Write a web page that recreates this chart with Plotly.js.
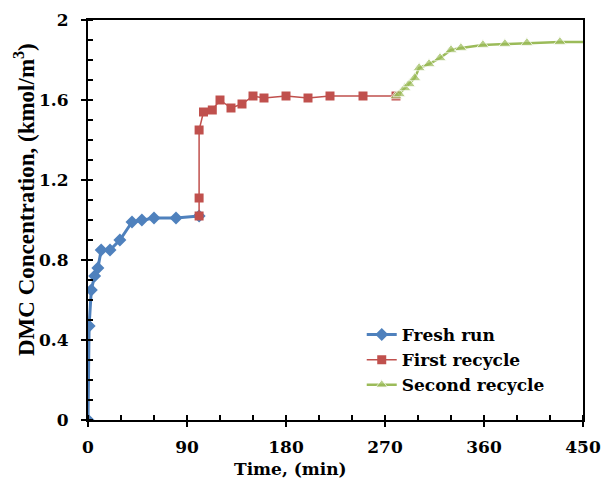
<!DOCTYPE html>
<html>
<head>
<meta charset="utf-8">
<script src="https://cdn.plot.ly/plotly-3.0.1.min.js"></script>
<style>html,body{margin:0;padding:0;background:#fff;}#chart{width:603px;height:479px;}</style>
</head>
<body>
<div id="chart"></div>
<script>
const freshTime = [0, 1, 3, 6, 9, 12, 20, 29, 40, 49, 60, 80, 101];
const freshConc = [0, 0.47, 0.65, 0.72, 0.76, 0.85, 0.85, 0.90, 0.99, 1.00, 1.01, 1.01, 1.02];

const firstTime = [101, 101, 101, 105, 113, 120, 130, 140, 150, 160, 180, 200, 220, 250, 280];
const firstConc = [1.02, 1.11, 1.45, 1.54, 1.55, 1.60, 1.56, 1.58, 1.62, 1.61, 1.62, 1.61, 1.62, 1.62, 1.62];

const secondTime = [280, 283, 288, 292, 297, 301, 310, 320, 330, 339, 359, 379, 399, 429, 450];
const secondConc = [1.62, 1.63, 1.66, 1.68, 1.71, 1.76, 1.78, 1.81, 1.85, 1.86, 1.875, 1.88, 1.885, 1.89, 1.89];

const seriesNames = ['Fresh run', 'First recycle', 'Second recycle'];
const xTickVals = [0, 90, 180, 270, 360, 450];
const yTickVals = [0, 0.4, 0.8, 1.2, 1.6, 2];
const yTickText = ['0', '0.4', '0.8', '1.2', '1.6', '2'];
const xTitle = 'Time, (min)';
const yTitle = 'DMC Concentration, (kmol/m<sup>3</sup>)';

const WIDE = 'DejaVu Serif, serif';
const TIMES = 'Liberation Serif, Times New Roman, serif';

const traces = [
  {x: freshTime, y: freshConc, name: seriesNames[0], mode: 'lines+markers',
   line: {color: '#4F81BD', width: 3},
   marker: {symbol: 'diamond', size: 10, color: '#4F81BD'}},
  {x: firstTime, y: firstConc, name: seriesNames[1], mode: 'lines+markers',
   line: {color: '#C0504D', width: 1.5},
   marker: {symbol: 'square', size: 9, color: '#C0504D'}},
  {x: secondTime, y: secondConc, name: seriesNames[2], mode: 'lines+markers',
   line: {color: '#9BBB59', width: 2.5},
   marker: {symbol: 'triangle-up', color: '#9BBB59',
            size: secondTime.map((v, i) => i === secondTime.length - 1 ? 0 : 11)}},
  // invisible helper trace so the overlay axes (inner halves of major ticks) are drawn
  {x: [0], y: [0], xaxis: 'x2', yaxis: 'y2', mode: 'markers', showlegend: false,
   marker: {size: 0.1, opacity: 0}, hoverinfo: 'skip'}
];

const axisCommon = {showgrid: false, zeroline: false, tickcolor: '#000'};

const layout = {
  width: 603, height: 479,
  margin: {l: 88, r: 20, t: 20, b: 59},
  paper_bgcolor: '#fff', plot_bgcolor: '#fff',
  font: {family: WIDE, size: 17, color: '#000'},
  showlegend: true,
  legend: {x: 0.553, y: 0.2575, xanchor: 'left', yanchor: 'top',
           bgcolor: 'rgba(0,0,0,0)', font: {family: WIDE, size: 17, color: '#000', weight: 'bold'},
           tracegroupgap: 0, itemwidth: 30},
  xaxis: Object.assign({}, axisCommon, {
          range: [0, 450], tickvals: xTickVals, ticktext: xTickVals.map(String),
          showline: true, linecolor: '#000', linewidth: 2, mirror: true,
          ticks: 'outside', ticklen: 5, tickwidth: 2, ticklabelstandoff: 6,
          minor: {dtick: 30, ticks: 'inside', ticklen: 5, tickwidth: 1.5, tickcolor: '#000', showgrid: false},
          tickfont: {family: WIDE, size: 17, weight: 'bold'}}),
  yaxis: Object.assign({}, axisCommon, {
          range: [0, 2], tickvals: yTickVals, ticktext: yTickText,
          showline: true, linecolor: '#000', linewidth: 2, mirror: true,
          ticks: 'outside', ticklen: 5, tickwidth: 2, ticklabelstandoff: 9,
          minor: {dtick: 0.1, ticks: 'inside', ticklen: 5, tickwidth: 1.5, tickcolor: '#000', showgrid: false},
          tickfont: {family: WIDE, size: 17, weight: 'bold'}}),
  xaxis2: Object.assign({}, axisCommon, {
          overlaying: 'x', range: [0, 450], tickvals: xTickVals, showticklabels: false,
          showline: false, ticks: 'inside', ticklen: 5, tickwidth: 2, side: 'bottom'}),
  yaxis2: Object.assign({}, axisCommon, {
          overlaying: 'y', range: [0, 2], tickvals: yTickVals, showticklabels: false,
          showline: false, ticks: 'inside', ticklen: 5, tickwidth: 2, side: 'left'}),
  annotations: [
    {text: xTitle, xref: 'paper', yref: 'paper', x: 0.41, y: -0.1225,
     xanchor: 'center', yanchor: 'middle', showarrow: false,
     font: {family: WIDE, size: 17, weight: 'bold', color: '#000'}},
    {text: yTitle, xref: 'paper', yref: 'paper', x: -0.1293, y: 0.5525, textangle: -90,
     xanchor: 'center', yanchor: 'middle', showarrow: false,
     font: {family: TIMES, size: 23, weight: 'bold', color: '#000'}}
  ]
};

Plotly.newPlot('chart', traces, layout, {displayModeBar: false, staticPlot: true});
</script>
</body>
</html>
